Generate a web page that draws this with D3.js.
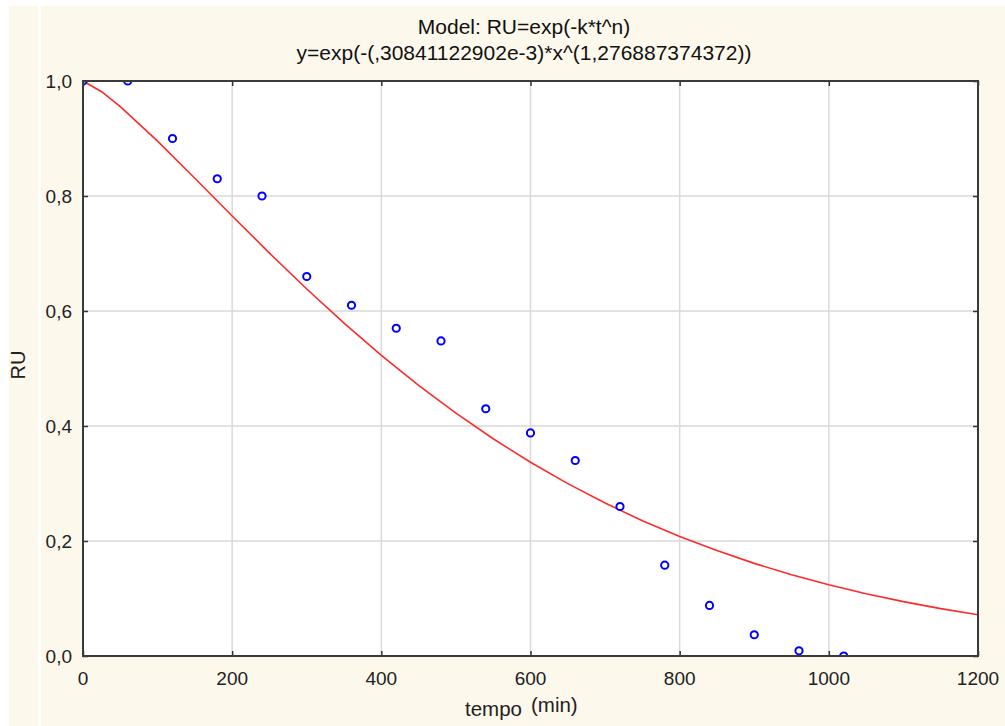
<!DOCTYPE html>
<html>
<head>
<meta charset="utf-8">
<script src="https://cdn.jsdelivr.net/npm/d3@7"></script>
<style>
html,body{margin:0;padding:0;background:#fff;}
svg{display:block;font-family:"Liberation Sans",Arial,sans-serif;}
</style>
</head>
<body>
<svg id="chart" width="1005" height="726"></svg>
<script>
// Observed data (tempo in min, RU)
const tempo = [0,60,120,180,240,300,360,420,480,540,600,660,720,780,840,900,960,1020];
const ru = [1.0,1.0,0.90,0.83,0.80,0.66,0.61,0.57,0.548,0.43,0.388,0.34,0.26,0.158,0.088,0.037,0.009,0.0];
// Fitted model curve
const fitX = [0,25,50,100,150,200,250,300,350,400,450,500,550,600,650,700,750,800,850,900,950,1000,1050,1100,1150,1200];
const fitY = [1.0,0.9814,0.9555,0.8955,0.8309,0.7653,0.7007,0.6383,0.5790,0.5230,0.4708,0.4224,0.3778,0.3370,0.2998,0.2660,0.2354,0.2079,0.1833,0.1611,0.1414,0.1239,0.1083,0.0946,0.0824,0.0717];
const xTicks = [0,200,400,600,800,1000,1200];
const yTicks = [0,0.2,0.4,0.6,0.8,1.0];
const titleLines = ["Model: RU=exp(-k*t^n)", "y=exp(-(,30841122902e-3)*x^(1,276887374372))"];

const svg = d3.select("#chart");
const cream = "#fdf8ec";
svg.append("rect").attr("x",0).attr("y",0).attr("width",1005).attr("height",726).attr("fill","#fff");
svg.append("rect").attr("x",9).attr("y",6).attr("width",29).attr("height",720).attr("fill",cream);
svg.append("rect").attr("x",41).attr("y",6).attr("width",964).attr("height",720).attr("fill",cream);

const L=83, T=81, R=978, B=656;
const x = d3.scaleLinear().domain([0,1200]).range([L,R]);
const y = d3.scaleLinear().domain([0,1]).range([B,T]);

svg.append("rect").attr("x",L).attr("y",T).attr("width",R-L).attr("height",B-T).attr("fill","#fff");

// grid
const grid = svg.append("g").attr("stroke","#d9d9d9").attr("stroke-width",1.5);
xTicks.slice(1,-1).forEach(t=>grid.append("line").attr("x1",x(t)).attr("x2",x(t)).attr("y1",T).attr("y2",B));
yTicks.slice(1,-1).forEach(t=>grid.append("line").attr("y1",y(t)).attr("y2",y(t)).attr("x1",L).attr("x2",R));

svg.append("defs").append("clipPath").attr("id","clip")
  .append("rect").attr("x",L).attr("y",T).attr("width",R-L).attr("height",B-T);

const plot = svg.append("g").attr("clip-path","url(#clip)");
const line = d3.line().x((d,i)=>x(fitX[i])).y((d,i)=>y(fitY[i]));
plot.append("path").datum(fitY).attr("d",line).attr("fill","none")
  .attr("stroke","#ff2a2a").attr("stroke-width",1.6);
plot.selectAll("circle").data(tempo).join("circle")
  .attr("cx",(d)=>x(d)).attr("cy",(d,i)=>y(ru[i])).attr("r",3.6)
  .attr("fill","#fff").attr("stroke","#0000ff").attr("stroke-width",2);

// axes (inner ticks)
const xAxisB = d3.axisBottom(x).tickValues(xTicks).tickSize(-5).tickFormat("");
const xAxisT = d3.axisTop(x).tickValues(xTicks).tickSize(-5).tickFormat("");
const yAxisL = d3.axisLeft(y).tickValues(yTicks).tickSize(-5).tickFormat("");
const yAxisR = d3.axisRight(y).tickValues(yTicks).tickSize(-5).tickFormat("");
[[xAxisB,`translate(0,${B})`],[xAxisT,`translate(0,${T})`],[yAxisL,`translate(${L},0)`],[yAxisR,`translate(${R},0)`]].forEach(([a,tr])=>{
  const g = svg.append("g").attr("transform",tr).call(a);
  g.select(".domain").remove();
  g.selectAll("line").attr("stroke","#333").attr("stroke-width",1.5);
});
svg.append("rect").attr("x",L).attr("y",T).attr("width",R-L).attr("height",B-T)
  .attr("fill","none").attr("stroke","#3a3a3a").attr("stroke-width",2);

// tick labels
const fmt = d => d3.format(".1f")(d).replace(".",",");
svg.append("g").selectAll("text").data(xTicks).join("text")
  .attr("x",d=>x(d)).attr("y",685).attr("text-anchor","middle")
  .attr("font-size",19).attr("fill","#222").text(d=>d);
svg.append("g").selectAll("text").data(yTicks).join("text")
  .attr("x",72).attr("y",d=>y(d)+7).attr("text-anchor","end")
  .attr("font-size",19).attr("fill","#222").text(fmt);

// titles
svg.append("text").attr("x",524).attr("y",34).attr("text-anchor","middle")
  .attr("font-size",21).attr("fill","#111").text(titleLines[0]);
svg.append("text").attr("x",524).attr("y",60).attr("text-anchor","middle")
  .attr("font-size",21).attr("fill","#111").text(titleLines[1]);

// axis titles
svg.append("text").attr("x",465).attr("y",716).attr("font-size",20.5).attr("fill","#222").text("tempo");
svg.append("text").attr("x",531).attr("y",712).attr("font-size",20.5).attr("fill","#222").text("(min)");
svg.append("text").attr("transform","translate(25,365) rotate(-90)").attr("text-anchor","middle")
  .attr("font-size",20).attr("fill","#222").text("RU");
</script>
</body>
</html>
